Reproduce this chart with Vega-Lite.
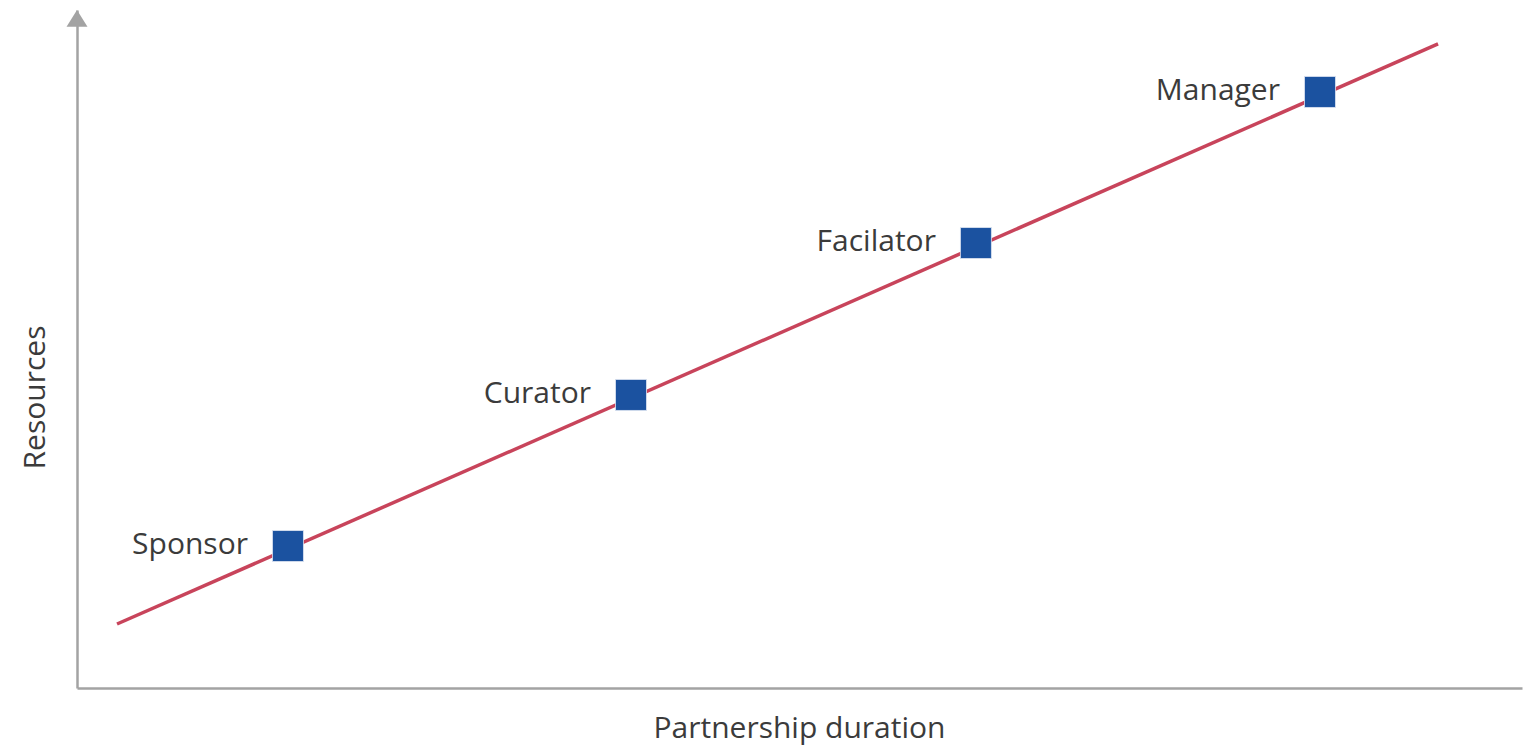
{
  "$schema": "https://vega.github.io/schema/vega-lite/v6.json",
  "width": 1445,
  "height": 678,
  "autosize": {"type": "none"},
  "padding": {"left": 77, "top": 10, "right": 3, "bottom": 57},
  "background": "white",
  "config": {
    "view": {"stroke": null},
    "axis": {"grid": false, "ticks": false, "labels": false, "domainColor": "#a3a3a3", "domainWidth": 2.5,
      "titleFont": "Open Sans", "titleFontSize": 30, "titleFontWeight": "normal", "titleColor": "#3b3b3b"}
  },
  "layer": [
    {
      "data": {"values": [{"t": 2.77, "r": 9.44}, {"t": 94.19, "r": 94.99}]},
      "mark": {"type": "line", "color": "#c8445b", "strokeWidth": 3.5, "clip": false},
      "encoding": {
        "x": {"field": "t", "type": "quantitative", "scale": {"domain": [0, 100], "nice": false, "zero": false},
          "axis": {"title": "Partnership duration", "titleX": 722, "titleY": 40, "titleBaseline": "middle", "titleAlign": "center"}},
        "y": {"field": "r", "type": "quantitative", "scale": {"domain": [0, 100], "nice": false, "zero": false},
          "axis": {"title": "Resources", "titleX": -42, "titleY": 387, "titleAngle": -90, "titleBaseline": "middle", "titleAlign": "center"}}
      }
    },
    {
      "data": {"values": [
        {"role": "Sponsor", "t": 14.60, "r": 20.94},
        {"role": "Curator", "t": 38.34, "r": 43.22},
        {"role": "Facilator", "t": 62.21, "r": 65.63},
        {"role": "Manager", "t": 86.02, "r": 87.91}
      ]},
      "layer": [
        {
          "mark": {"type": "point", "shape": "square", "filled": true, "size": 961, "color": "#1b52a0", "opacity": 1, "stroke": "#dfe6f2", "strokeWidth": 0.8},
          "encoding": {
            "x": {"field": "t", "type": "quantitative"},
            "y": {"field": "r", "type": "quantitative"}
          }
        },
        {
          "mark": {"type": "text", "align": "right", "baseline": "middle", "dx": -40, "dy": -1, "font": "Open Sans", "fontSize": 30, "color": "#3b3b3b"},
          "encoding": {
            "x": {"field": "t", "type": "quantitative"},
            "y": {"field": "r", "type": "quantitative"},
            "text": {"field": "role"}
          }
        }
      ]
    },
    {
      "data": {"values": [{"t": 0, "r": 100}]},
      "mark": {"type": "point", "shape": "M0,0L1,1.6L-1,1.6Z", "filled": true, "size": 441, "color": "#a3a3a3", "opacity": 1, "clip": false},
      "encoding": {
        "x": {"field": "t", "type": "quantitative"},
        "y": {"field": "r", "type": "quantitative"}
      }
    }
  ]
}
